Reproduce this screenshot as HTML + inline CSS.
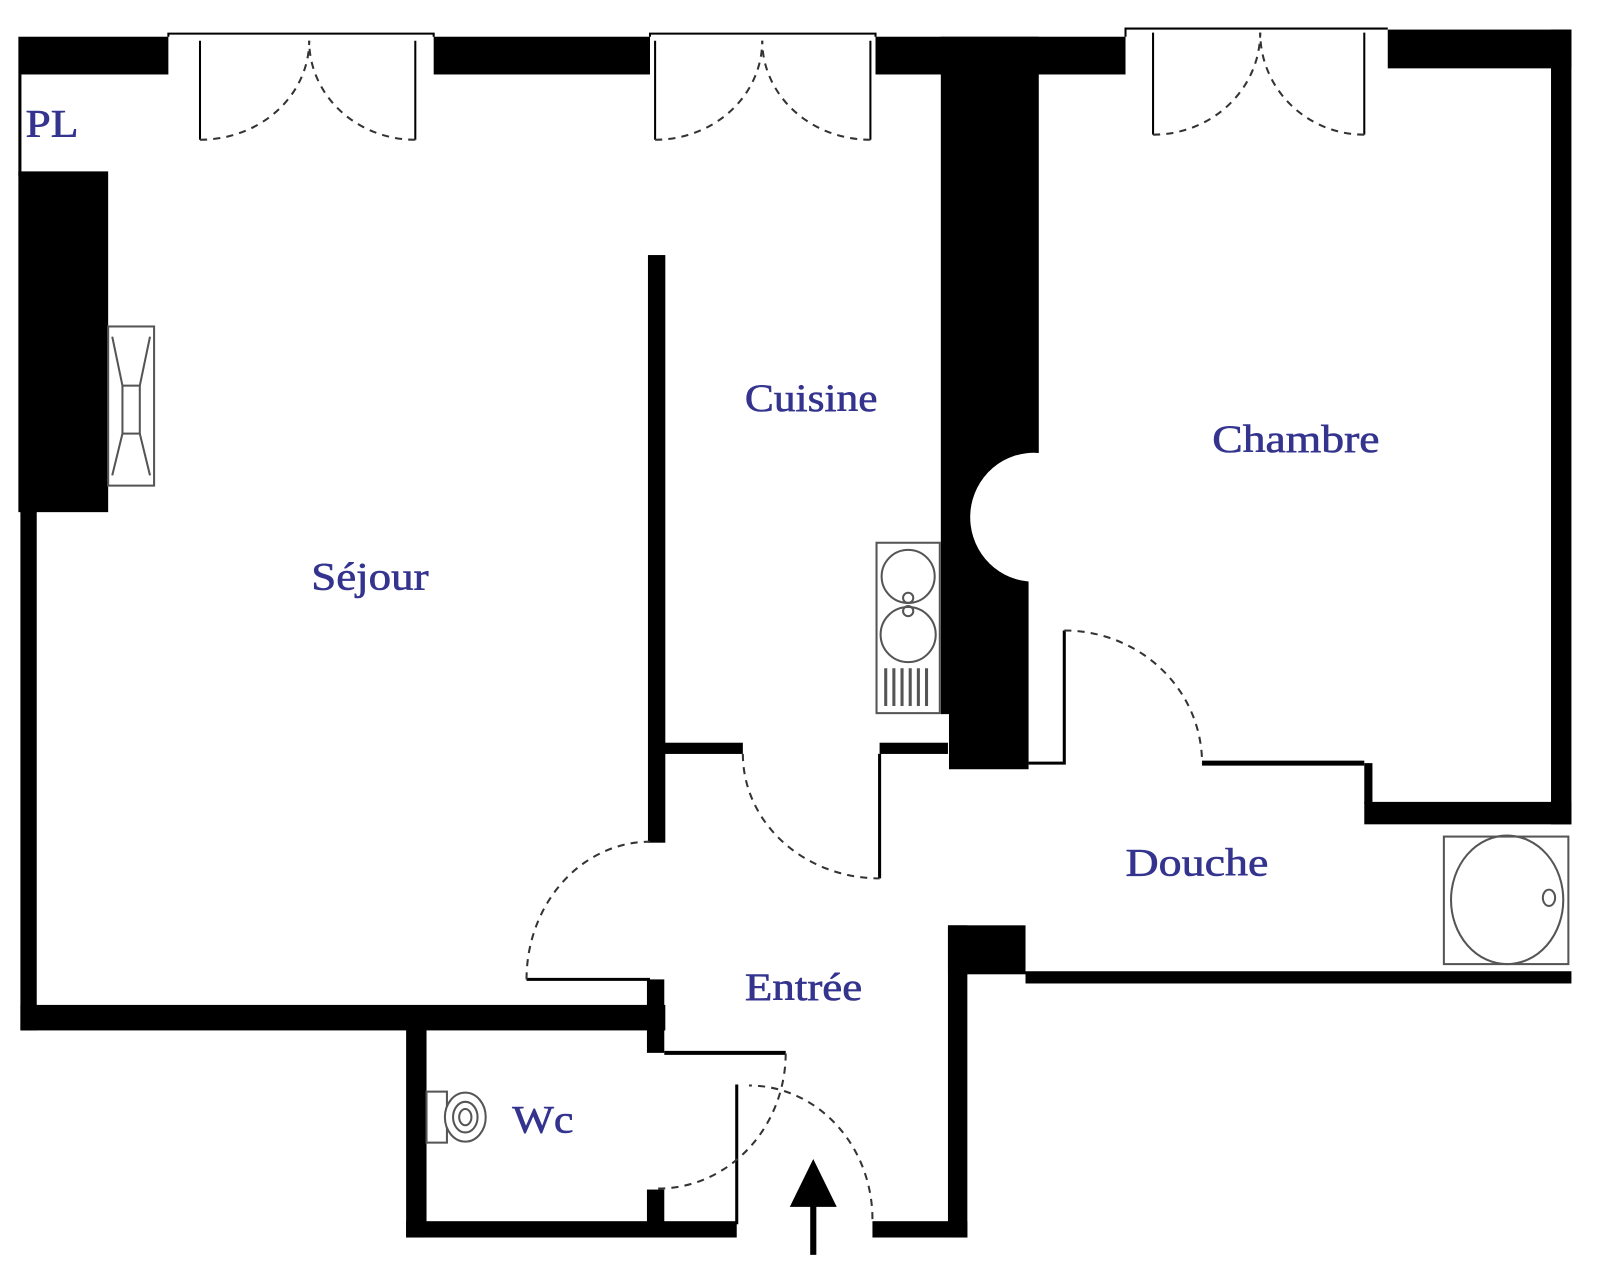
<!DOCTYPE html>
<html><head><meta charset="utf-8"><style>
html,body{margin:0;padding:0;background:#fff;}
svg{display:block}
text{font-family:"Liberation Serif",serif;fill:#34348f;font-size:38px;stroke:#34348f;stroke-width:0.6px;}
</style></head><body>
<svg width="1600" height="1262" viewBox="0 0 1568 1237" preserveAspectRatio="none" xmlns="http://www.w3.org/2000/svg">
<rect width="1568" height="1237" fill="#fff"/>
<g fill="#000">
<rect x="18" y="36" width="147" height="37"/>
<rect x="425" y="36" width="212" height="37"/>
<rect x="858" y="36" width="245" height="37"/>
<rect x="1360" y="29" width="180" height="38"/>
<rect x="1520" y="29" width="20" height="779"/>
<rect x="1337" y="786" width="203" height="22"/>
<rect x="1337" y="748" width="8" height="40"/>
<rect x="18" y="73" width="3" height="100"/>
<rect x="18" y="168" width="88" height="334"/>
<rect x="20" y="500" width="16" height="510"/>
<rect x="20" y="985" width="632" height="25"/>
<rect x="398" y="1003" width="20" height="210"/>
<rect x="398" y="1197" width="324" height="16"/>
<rect x="634" y="960" width="17" height="72"/>
<rect x="634" y="1166" width="17" height="34"/>
<rect x="635" y="250" width="17" height="576"/>
<rect x="651" y="728" width="77" height="11"/>
<rect x="862" y="728" width="67" height="11"/>
<path d="M922,36 H1018 V444 A62,63 0 0 0 1008,570 V754 H930 V700 H922 Z"/>
<rect x="929" y="907" width="76" height="48"/>
<rect x="929" y="907" width="19" height="306"/>
<rect x="1005" y="952" width="535" height="12"/>
<rect x="855" y="1197" width="93" height="16"/>
<rect x="794" y="1175" width="6" height="55"/>
<path d="M774,1183 L820,1183 L797,1136 Z"/>
</g>
<g stroke="#000" fill="none" stroke-width="2">
<path d="M165,36 V33 H425 V36"/>
<path d="M196,40 V137 M407,40 V137"/>
<path d="M637,36 V33 H858 V36"/>
<path d="M642,40 V137 M853,40 V137"/>
<path d="M1103,36 V28 H1360"/>
<path d="M1130,32 V132 M1337,32 V132"/>
<path d="M1008,748 H1043 V618" stroke-width="3"/>
<path d="M1178,748 H1337" stroke-width="5"/>
<path d="M862,739 V861" stroke-width="3"/>
<path d="M516,960 H637" stroke-width="3"/>
<path d="M651,1032 H770" stroke-width="4"/>
<path d="M722,1063 V1200" stroke-width="3"/>
</g>
<g stroke="#333" fill="none" stroke-width="2" stroke-dasharray="7,6">
<path d="M196,137 A107,97 0 0 0 303,40"/>
<path d="M407,137 A104,97 0 0 1 303,40"/>
<path d="M642,137 A105,97 0 0 0 747,40"/>
<path d="M853,137 A106,97 0 0 1 747,40"/>
<path d="M1130,132 A105,100 0 0 0 1235,32"/>
<path d="M1337,132 A102,100 0 0 1 1235,32"/>
<path d="M1043,618 A135,130 0 0 1 1178,748"/>
<path d="M728,739 A134,122 0 0 0 862,861"/>
<path d="M516,960 A121,135 0 0 1 637,825"/>
<path d="M645,1165 A125,133 0 0 0 770,1032"/>
<path d="M855,1195 A121,131 0 0 0 734,1064"/>
</g>
<g stroke="#555" fill="#fff" stroke-width="2">
<rect x="106" y="320" width="45" height="156"/>
<rect x="120" y="378" width="17" height="47"/>
<path d="M110,330 L120,378 M147,330 L137,378 M110,466 L120,425 M147,466 L137,425" fill="none"/>
</g>
<g stroke="#555" fill="none" stroke-width="2">
<rect x="859" y="532" width="62" height="167" fill="#fff"/>
<circle cx="890" cy="565" r="26"/>
<circle cx="890" cy="622" r="27"/>
<circle cx="890" cy="586" r="5"/>
<circle cx="890" cy="599" r="5"/>
<path d="M868,655 V692 M876,655 V692 M884,655 V692 M892,655 V692 M900,655 V692 M908,655 V692" stroke-width="3"/>
</g>
<g stroke="#555" fill="none" stroke-width="2">
<rect x="1415" y="820" width="122" height="125"/>
<ellipse cx="1477" cy="882" rx="55" ry="63"/>
<ellipse cx="1518" cy="880" rx="6" ry="8"/>
</g>
<g stroke="#555" fill="#fff" stroke-width="2">
<rect x="418" y="1070" width="20" height="50"/>
<ellipse cx="456" cy="1095" rx="20" ry="24"/>
<ellipse cx="456" cy="1095" rx="12" ry="15"/>
<ellipse cx="456" cy="1095" rx="6" ry="8"/>
</g>
<text x="25" y="134" textLength="52" lengthAdjust="spacingAndGlyphs">PL</text>
<text x="305" y="578" textLength="115" lengthAdjust="spacingAndGlyphs">Séjour</text>
<text x="730" y="403" textLength="130" lengthAdjust="spacingAndGlyphs">Cuisine</text>
<text x="1188" y="443" textLength="164" lengthAdjust="spacingAndGlyphs">Chambre</text>
<text x="1103" y="858" textLength="140" lengthAdjust="spacingAndGlyphs">Douche</text>
<text x="730" y="980" textLength="115" lengthAdjust="spacingAndGlyphs">Entrée</text>
<text x="502" y="1110" textLength="60" lengthAdjust="spacingAndGlyphs">Wc</text>
</svg>
</body></html>
